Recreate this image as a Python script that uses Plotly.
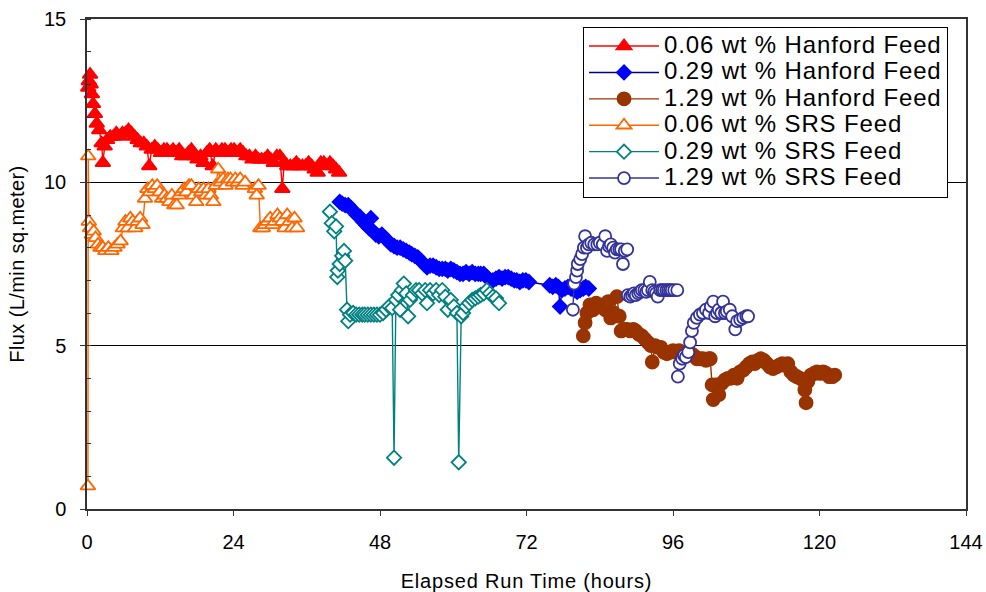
import plotly.graph_objects as go

# ---------------- data ----------------
series_names = [
    "0.06 wt % Hanford Feed",
    "0.29 wt % Hanford Feed",
    "1.29 wt % Hanford Feed",
    "0.06 wt % SRS Feed",
    "0.29 wt % SRS Feed",
    "1.29 wt % SRS Feed",
]

h006_hanford = [0.2, 0.3, 0.5, 0.6, 0.8, 1.0, 1.3, 1.6, 2.0, 2.4, 2.6, 2.9, 3.3, 3.8, 4.3, 4.8, 5.3, 5.8,
                6.3, 6.8, 7.3, 7.8, 8.3, 8.8, 9.3, 9.8, 10.2, 10.6, 11.1, 11.6, 12.1, 12.6, 13.1, 13.6,
                14.1, 14.6, 15.1, 15.6, 16.1, 16.6, 17.1, 17.6, 18.1, 18.6, 19.1, 19.6, 20.1, 20.6, 21.1,
                21.6, 22.1, 22.6, 23.1, 23.6, 24.1, 24.6, 25.1, 25.6, 26.1, 26.6, 27.1, 27.6, 28.1, 28.6,
                29.1, 29.6, 30.1, 30.6, 31.1, 31.6, 32.0, 32.3, 32.8, 33.3, 33.8, 34.3, 34.8, 35.3, 35.8,
                36.3, 36.8, 37.3, 37.8, 38.3, 38.8, 39.3, 39.8, 40.3, 40.8, 41.3]
f006_hanford = [12.9, 13.1, 13.3, 13.0, 12.7, 12.4, 12.1, 11.8, 11.6, 11.2, 10.6, 11.1, 11.3, 11.4, 11.4,
                11.5, 11.4, 11.5, 11.5, 11.6, 11.5, 11.4, 11.3, 11.2, 11.2, 11.1, 10.5, 11.0, 11.1, 11.0,
                10.9, 11.0, 11.0, 10.9, 11.0, 10.9, 11.0, 10.8, 10.8, 10.9, 11.0, 10.8, 10.7, 10.8, 10.6,
                10.9, 11.0, 10.5, 11.0, 10.9, 11.0, 11.0, 10.9, 11.0, 11.0, 10.9, 11.0, 10.9, 10.8, 10.8,
                10.7, 10.8, 10.7, 10.7, 10.7, 10.8, 10.7, 10.6, 10.8, 10.8, 9.8, 10.6, 10.5, 10.5, 10.5,
                10.6, 10.5, 10.5, 10.5, 10.6, 10.5, 10.4, 10.3, 10.6, 10.6, 10.5, 10.6, 10.5, 10.4, 10.3]

h029_hanford = [41.4, 41.8, 42.3, 42.8, 43.3, 43.7, 44.2, 44.7, 45.2, 45.7, 46.2, 46.5, 46.9, 47.3, 47.8,
                48.3, 48.8, 49.3, 49.8, 50.3, 50.8, 51.3, 51.8, 52.3, 52.8, 53.2, 53.7, 54.2, 54.7, 55.2,
                55.7, 56.2, 56.7, 57.2, 57.7, 58.2, 58.7, 59.1, 59.6, 60.1, 60.6, 61.1, 61.6, 62.1, 62.6,
                63.1, 63.6, 64.1, 64.5, 65.0, 65.5, 66.0, 66.5, 67.0, 67.5, 68.0, 68.5, 69.0, 69.5, 70.0,
                70.4, 70.9, 71.4, 71.9, 72.4, 75.8, 76.3, 76.8, 77.2, 77.5, 77.8, 78.3, 78.8, 79.3, 79.8,
                80.3, 80.8, 81.3, 81.7, 82.2]
f029_hanford = [9.4, 9.35, 9.3, 9.3, 9.2, 9.1, 9.0, 8.95, 8.8, 8.7, 8.6, 8.9, 8.5, 8.4, 8.35, 8.4, 8.3,
                8.2, 8.1, 8.05, 8.0, 8.0, 7.95, 7.9, 7.85, 7.8, 7.75, 7.7, 7.6, 7.5, 7.4, 7.45, 7.45, 7.4,
                7.35, 7.35, 7.35, 7.3, 7.35, 7.3, 7.25, 7.2, 7.2, 7.25, 7.2, 7.25, 7.2, 7.2, 7.2, 7.2, 7.1,
                7.0, 7.0, 7.05, 7.1, 7.05, 7.1, 7.1, 7.05, 7.0, 7.0, 6.95, 7.0, 7.0, 6.95, 6.85, 6.8,
                6.85, 6.8, 6.2, 6.7, 6.75, 6.8, 6.75, 6.7, 6.65, 6.7, 6.75, 6.8, 6.75]

h129_hanford = [81.3, 81.6, 81.9, 82.4, 82.9, 83.4, 83.9, 84.4, 84.9, 85.4, 85.8, 86.3, 86.8, 87.2, 87.5,
                88.0, 88.5, 89.0, 89.5, 89.9, 90.4, 90.9, 91.4, 91.9, 92.4, 92.6, 93.1, 93.5, 94.0, 94.5,
                95.0, 95.5, 96.0, 96.5, 97.0, 97.5, 98.0, 98.5, 99.0, 99.4, 99.9, 100.4, 100.9, 101.4,
                101.9, 102.1, 102.4, 102.6, 103.0, 103.5, 104.0, 104.5, 105.0, 105.5, 106.0, 106.5,
                107.0, 107.5, 108.0, 108.5, 109.0, 109.4, 109.9, 110.4, 110.9, 111.4, 111.9, 112.4,
                112.9, 113.4, 113.9, 114.3, 114.8, 115.3, 115.8, 116.3, 116.8, 117.3, 117.6, 117.8,
                118.1, 118.6, 119.1, 119.6, 120.1, 120.6, 121.1, 121.6, 122.1, 122.5]
f129_hanford = [5.3, 5.7, 6.0, 6.25, 6.1, 6.3, 6.2, 6.25, 6.1, 6.35, 5.85, 6.0, 6.5, 5.9, 5.45, 5.5, 5.5,
                5.45, 5.5, 5.45, 5.35, 5.3, 5.2, 5.1, 5.0, 4.5, 5.0, 4.95, 4.95, 4.8, 4.75, 4.8, 4.85, 4.8,
                4.85, 4.8, 4.75, 4.8, 4.75, 4.7, 4.6, 4.6, 4.6, 4.55, 4.6, 4.6, 3.8, 3.35, 3.8, 3.5, 3.85,
                3.95, 4.0, 4.0, 4.1, 4.0, 4.2, 4.25, 4.35, 4.45, 4.5, 4.45, 4.55, 4.6, 4.55, 4.45, 4.35,
                4.3, 4.35, 4.4, 4.45, 4.4, 4.45, 4.2, 4.1, 4.05, 4.0, 3.95, 3.65, 3.25, 3.9, 4.1, 4.15,
                4.2, 4.15, 4.2, 4.15, 4.05, 4.05, 4.1]

h006_srs = [0.15, 0.2, 0.3, 0.5, 0.8, 1.1, 1.4, 1.8, 2.2, 2.6, 3.0, 3.5, 4.0, 4.5, 5.0, 5.5, 5.9, 6.3, 6.7,
            7.1, 7.5, 7.9, 8.3, 8.7, 9.1, 9.5, 9.9, 10.3, 10.7, 11.1, 11.5, 11.9, 12.3, 12.7, 13.1, 13.5,
            13.9, 14.3, 14.7, 15.1, 15.5, 15.9, 16.3, 16.7, 17.1, 17.5, 17.9, 18.3, 18.7, 19.1, 19.5, 19.9,
            20.3, 20.7, 21.1, 21.5, 21.9, 22.3, 22.7, 23.1, 23.5, 23.9, 24.3, 24.7, 25.1, 25.5, 25.9, 27.5,
            27.8, 28.1, 28.4, 28.8, 29.2, 29.6, 30.0, 30.4, 30.8, 31.2, 31.6, 32.0, 32.4, 32.8, 33.2, 33.6,
            34.0, 34.4]
f006_srs = [0.7, 10.8, 8.8, 8.6, 8.4, 8.5, 8.3, 8.1, 8.0, 8.0, 7.9, 8.0, 7.9, 8.0, 8.1, 8.2, 8.6, 8.8, 8.6,
            8.9, 8.8, 8.6, 8.8, 8.9, 8.7, 9.5, 9.8, 9.7, 9.9, 9.8, 9.9, 9.7, 9.5, 9.6, 9.5, 9.4, 9.6, 9.3,
            9.3, 9.6, 9.7, 9.8, 9.7, 9.9, 9.9, 9.6, 9.4, 9.8, 9.7, 9.8, 9.6, 9.8, 9.6, 9.4, 9.9, 10.4,
            10.0, 10.1, 9.9, 10.1, 10.1, 10.0, 10.1, 10.0, 10.1, 9.9, 10.0, 9.8, 9.6, 9.9, 8.6, 8.6, 8.7,
            8.8, 8.9, 8.7, 8.8, 9.0, 8.9, 8.8, 8.6, 9.0, 8.8, 8.6, 8.9, 8.6]

h029_srs = [39.8, 40.1, 40.5, 40.8, 41.0, 41.1, 41.4, 41.8, 42.1, 42.3, 42.6, 42.8, 43.1, 43.6, 44.1, 44.6,
            45.1, 45.5, 46.0, 46.5, 47.0, 47.5, 48.0, 48.5, 49.0, 49.5, 50.0, 50.3, 50.6, 51.0, 51.3, 51.6,
            51.9, 52.3, 52.6, 52.9, 53.4, 53.9, 54.4, 54.9, 55.4, 55.7, 56.2, 56.7, 57.2, 57.7, 58.2, 58.7,
            59.1, 59.6, 60.1, 60.6, 60.9, 61.3, 61.6, 62.1, 62.6, 63.1, 63.6, 64.1, 64.5, 65.0, 65.5, 66.0,
            66.5, 67.0, 67.5]
f029_srs = [9.1, 8.75, 8.5, 8.65, 7.1, 7.3, 7.5, 7.75, 7.9, 7.6, 6.1, 5.75, 5.95, 6.0, 5.95, 5.95, 5.95,
            5.95, 5.95, 5.95, 5.95, 5.95, 5.95, 6.0, 6.1, 6.2, 6.15, 1.57, 6.4, 6.55, 6.1, 6.7, 6.9, 6.6,
            5.9, 6.4, 6.55, 6.7, 6.7, 6.6, 6.7, 6.3, 6.7, 6.6, 6.7, 6.55, 6.7, 6.5, 6.1, 6.4, 6.2, 6.0,
            1.43, 5.9, 6.0, 6.2, 6.3, 6.4, 6.45, 6.5, 6.55, 6.6, 6.7, 6.6, 6.5, 6.45, 6.3]

h129_srs = [79.6, 79.8, 80.1, 80.3, 80.4, 80.8, 81.1, 81.4, 81.6, 81.9, 82.2, 82.6, 83.1, 83.6, 84.0, 84.5,
            84.9, 85.2, 85.5, 85.8, 86.2, 86.5, 86.8, 87.2, 87.5, 87.8, 88.1, 88.5, None,
            88.6, 89.0, 89.3, 89.6, 89.9, 90.3, 90.6, 90.9, 91.3, 91.6, 91.9, 92.2, 92.6, 92.9, 93.2,
            93.5, 93.9, 94.2, 94.5, 94.9, 95.2, 95.5, 95.8, 96.2, 96.7, None,
            96.8, 97.1, 97.5, 97.8, 98.1, 98.5, 98.8, 99.1, 99.4, 99.9, 100.4, 100.9, 101.4, 101.9,
            102.2, 102.6, 102.9, 103.2, 103.5, 103.9, 104.2, 104.5, 104.8, 105.3, 105.7, 106.2, 106.5,
            107.0, 107.5, 108.0, 108.3]
f129_srs = [6.1, 6.9, 7.1, 7.3, 7.5, 7.65, 7.8, 8.0, 8.35, 8.0, 8.1, 8.15, 8.1, 8.1, 8.15, 8.1, 8.35, 7.9,
            8.05, 8.1, 8.0, 7.85, 7.95, 7.95, 7.95, 7.5, 7.9, 7.95, None,
            6.55, 6.5, 6.55, 6.6, 6.55, 6.6, 6.65, 6.7, 6.7, 6.65, 6.7, 6.95, 6.7, 6.65, 6.6, 6.5, 6.7,
            6.7, 6.7, 6.7, 6.7, 6.7, 6.7, 6.7, 6.7, None,
            4.05, 4.45, 4.6, 4.7, 4.65, 4.8, 5.1, 5.45, 5.7, 5.85, 5.95, 6.0, 6.1, 6.0, 6.2, 6.35, 5.9,
            6.0, 6.1, 6.0, 6.35, 6.0, 6.05, 6.1, 5.9, 5.5, 5.75, 5.8, 5.85, 5.9, 5.9]

x_tick_vals = [0, 24, 48, 72, 96, 120, 144]
y_tick_vals = [0, 5, 10, 15]

# ---------------- styles ----------------
FONT = "Liberation Sans, Arial, sans-serif"
styles = [
    dict(line="#FF0000", sym="triangle-up", fill="#FF0000", edge="#FF0000", size=13),
    dict(line="#000080", sym="diamond", fill="#0000FF", edge="#0000FF", size=11),
    dict(line="#993300", sym="circle", fill="#993300", edge="#993300", size=13),
    dict(line="#FF6600", sym="triangle-up", fill="#FFFFFF", edge="#FF6600", size=13),
    dict(line="#008080", sym="diamond", fill="#FFFFFF", edge="#008080", size=11),
    dict(line="#333399", sym="circle", fill="#FFFFFF", edge="#333399", size=12),
]
xs = [h006_hanford, h029_hanford, h129_hanford, h006_srs, h029_srs, h129_srs]
ys = [f006_hanford, f029_hanford, f129_hanford, f006_srs, f029_srs, f129_srs]

fig = go.Figure()
for name, x, y, st in zip(series_names, xs, ys, styles):
    fig.add_trace(go.Scatter(
        x=x, y=y, mode="lines+markers",
        name=f'<span style="font-size:24px;letter-spacing:0.85px">{name}</span>',
        line=dict(color=st["line"], width=1.4),
        marker=dict(symbol=st["sym"], size=st["size"], color=st["fill"],
                    line=dict(color=st["edge"], width=1.8)),
        connectgaps=False, cliponaxis=False,
    ))

fig.update_layout(
    width=986, height=592,
    margin=dict(l=87, r=20, t=19, b=83, autoexpand=False),
    paper_bgcolor="white", plot_bgcolor="white",
    font=dict(family=FONT, size=20, color="black"),
    showlegend=True,
    legend=dict(
        x=0.5643, y=0.984, xanchor="left", yanchor="top",
        bgcolor="white", bordercolor="black", borderwidth=1,
        font=dict(family=FONT, size=18, color="black"),
        itemwidth=70, tracegroupgap=0, traceorder="normal",
    ),
    xaxis=dict(
        range=[0, 144], tickmode="array", tickvals=x_tick_vals,
        ticks="outside", ticklen=5, tickcolor="#333", tickwidth=1,
        showgrid=False, zeroline=False, automargin=False,
        showline=True, linecolor="#333", linewidth=1.5, mirror=True,
        ticklabelstandoff=9,
        title=dict(text='<span style="letter-spacing:0.8px">Elapsed Run Time (hours)</span>',
                   font=dict(size=20), standoff=30),
    ),
    yaxis=dict(
        range=[0, 15], tickmode="array", tickvals=y_tick_vals,
        ticks="outside", ticklen=5, tickcolor="#333", tickwidth=1,
        minor=dict(dtick=1, ticks="inside", ticklen=4, tickcolor="#333", showgrid=False),
        showgrid=True, gridcolor="black", gridwidth=1,
        zeroline=False, automargin=False,
        showline=True, linecolor="#333", linewidth=1.5, mirror=True,
        ticklabelstandoff=10,
        title=dict(text='<span style="letter-spacing:0.4px">Flux (L/min sq.meter)</span>',
                   font=dict(size=20), standoff=14),
    ),
)

# remove the page's default 8px body margin so the figure fills the window exactly
fig.write_html("out.html",
               config={"displayModeBar": False},
               post_script="document.body.style.margin='0';document.body.style.overflow='hidden';")
